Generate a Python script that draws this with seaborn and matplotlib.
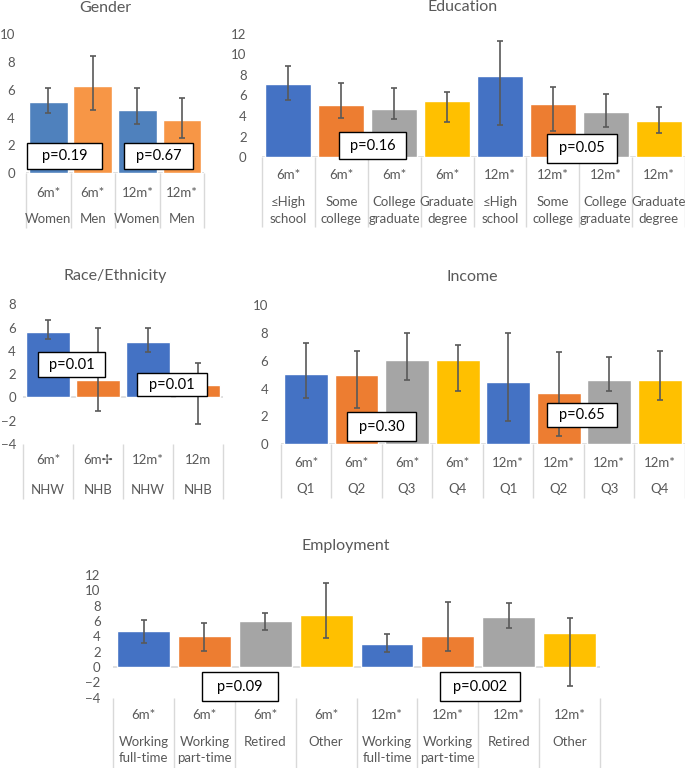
import matplotlib
matplotlib.use("Agg")
import matplotlib.pyplot as plt
from matplotlib.patches import Rectangle
import seaborn as sns
import pandas as pd

# ---- data ----
# Gender
gender_periods = ["6m*", "6m*", "12m*", "12m*"]
gender_groups = ["Women", "Men", "Women", "Men"]
gender_mean = [5.15, 6.25, 4.55, 3.85]
gender_low = [4.35, 4.55, 3.55, 2.55]
gender_high = [6.15, 8.45, 6.15, 5.45]
gender_p = ["p=0.19", "p=0.67"]

# Education
edu_periods = ["6m*"] * 4 + ["12m*"] * 4
edu_groups = ["≤High\nschool", "Some\ncollege", "College\ngraduate", "Graduate\ndegree"] * 2
edu_mean = [7.1, 5.1, 4.7, 5.45, 7.9, 5.2, 4.4, 3.55]
edu_low = [5.55, 3.85, 3.75, 3.45, 3.1, 2.55, 2.95, 2.35]
edu_high = [8.9, 7.2, 6.75, 6.35, 11.3, 6.85, 6.1, 4.9]
edu_p = ["p=0.16", "p=0.05"]

# Race/Ethnicity
race_periods = ["6m*", "6m\u2722", "12m*", "12m"]
race_groups = ["NHW", "NHB", "NHW", "NHB"]
race_mean = [5.65, 1.5, 4.75, 1.1]
race_low = [5.05, -1.15, 3.9, -2.3]
race_high = [6.65, 5.95, 5.95, 2.95]
race_p = ["p=0.01", "p=0.01"]

# Income
inc_periods = ["6m*"] * 4 + ["12m*"] * 4
inc_groups = ["Q1", "Q2", "Q3", "Q4"] * 2
inc_mean = [5.05, 4.98, 6.08, 6.08, 4.5, 3.65, 4.6, 4.6]
inc_low = [3.3, 2.6, 4.6, 3.8, 1.7, 0.6, 3.8, 3.2]
inc_high = [7.3, 6.7, 8.0, 7.1, 8.0, 6.6, 6.3, 6.7]
inc_p = ["p=0.30", "p=0.65"]

# Employment
emp_periods = ["6m*"] * 4 + ["12m*"] * 4
emp_groups = ["Working\nfull-time", "Working\npart-time", "Retired", "Other"] * 2
emp_mean = [4.75, 4.1, 6.05, 6.75, 2.95, 4.1, 6.5, 4.45]
emp_low = [3.15, 2.05, 4.85, 3.8, 1.9, 2.05, 5.15, -2.45]
emp_high = [6.1, 5.8, 7.0, 11.0, 4.35, 8.5, 8.4, 6.4]
emp_p = ["p=0.09", "p=0.002"]

# colours
old_two = ["#4F81BD", "#F79646"]
two = ["#4472C4", "#ED7D31"]
four = ["#4472C4", "#ED7D31", "#A5A5A5", "#FFC000"]

GRAY = "#595959"
LIGHT = "#D9D9D9"
PX = 0.72  # points per pixel at 100 dpi
LBL = 9.5

sns.set_style("white")
plt.rcParams["font.family"] = ["Lato", "DejaVu Sans"]


def draw_panel(ax, periods, groups, mean, low, high, colors, ylim, ystep,
               rows, sep_px, pvals, pboxes, ypad=9):
    n = len(mean)
    df = pd.DataFrame({"cat": [f"{p}|{g}|{i}" for i, (p, g) in enumerate(zip(periods, groups))],
                       "mean": mean})
    sns.barplot(data=df, x="cat", y="mean", hue="cat", palette=colors, width=0.87,
                saturation=1, legend=False, ax=ax, zorder=2)
    yerr = [[m - l for m, l in zip(mean, low)], [h - m for m, h in zip(mean, high)]]
    ax.errorbar(range(n), mean, yerr=yerr, fmt="none", ecolor=GRAY, elinewidth=1.2,
                capsize=2.5, capthick=1.2, zorder=3)
    ax.axhline(0, color=LIGHT, lw=1.2, zorder=1)
    ax.set_xlim(-0.5, n - 0.5)
    ax.set_ylim(*ylim)
    ax.set_yticks(list(range(int(ylim[0]), int(ylim[1]) + 1, ystep)))
    ax.set_xlabel("")
    ax.set_ylabel("")
    for s in ax.spines.values():
        s.set_visible(False)
    ax.set_xticks(range(n))
    ax.set_xticklabels([])
    ax.set_xticks([i - 0.5 for i in range(n + 1)], minor=True)
    ax.tick_params(axis="x", which="major", length=0)
    ax.tick_params(axis="x", which="minor", length=sep_px * PX, color=LIGHT, width=1.0,
                   direction="out", bottom=True)
    ax.tick_params(axis="y", length=0, labelcolor=GRAY, labelsize=LBL, pad=ypad)

    r1, r2, gap = rows
    for i, (p, g) in enumerate(zip(periods, groups)):
        ax.annotate(p, xy=(i, 0), xycoords=("data", "axes fraction"),
                    xytext=(0, -r1 * PX), textcoords="offset points",
                    ha="center", va="center", fontsize=LBL, color=GRAY)
        for k, line in enumerate(g.split("\n")):
            ax.annotate(line, xy=(i, 0), xycoords=("data", "axes fraction"),
                        xytext=(0, -(r2 + k * gap) * PX), textcoords="offset points",
                        ha="center", va="center", fontsize=LBL, color=GRAY)

    for txt, (x0, x1, y0, y1) in zip(pvals, pboxes):
        ax.add_patch(Rectangle((x0, y0), x1 - x0, y1 - y0, facecolor="white",
                               edgecolor="black", lw=1.0, zorder=5, clip_on=False))
        ax.text((x0 + x1) / 2, (y0 + y1) / 2, txt, ha="center", va="center",
                fontsize=10.5, color="black", zorder=6, clip_on=False)


W, H = 685, 768
fig = plt.figure(figsize=(W / 100, H / 100), dpi=100)


def add_axes(x0, x1, ytop, ybot):
    return fig.add_axes([x0 / W, 1 - ybot / H, (x1 - x0) / W, (ybot - ytop) / H])


# Gender
ax = add_axes(26, 204.3, 34.3, 173.3)
draw_panel(ax, gender_periods, gender_groups, gender_mean, gender_low, gender_high,
           old_two * 2, (0, 10), 2, (19.7, 45.7, 17), 55, gender_p,
           [(-0.48, 1.2, 0.29, 2.16), (1.7, 3.24, 0.29, 2.16)], ypad=8)
fig.text(105 / W, 1 - 8 / H, "Gender", ha="center", va="center", fontsize=11.5, color=GRAY)

# Education
ax = add_axes(262, 685, 33.7, 157.3)
draw_panel(ax, edu_periods, edu_groups, edu_mean, edu_low, edu_high,
           four * 2, (0, 12), 2, (17.7, 44.7, 17), 70, edu_p,
           [(0.955, 2.22, -0.17, 2.46), (4.89, 6.21, -0.52, 2.23)], ypad=11)
fig.text(463 / W, 1 - 7 / H, "Education", ha="center", va="center", fontsize=11.5, color=GRAY)

# Race/Ethnicity
ax = add_axes(23, 223, 304.3, 444)
draw_panel(ax, race_periods, race_groups, race_mean, race_low, race_high,
           two * 2, (-4, 8), 2, (16, 46, 17), 55, race_p,
           [(-0.2, 1.14, 1.78, 3.87), (1.78, 3.18, 0.14, 2.06)], ypad=5)
fig.text(115 / W, 1 - 276 / H, "Race/Ethnicity", ha="center", va="center", fontsize=11.5, color=GRAY)

# Income
ax = add_axes(280.7, 685, 305, 444.3)
draw_panel(ax, inc_periods, inc_groups, inc_mean, inc_low, inc_high,
           four * 2, (0, 10), 2, (18.4, 45, 17), 54, inc_p,
           [(0.81, 2.18, 0.23, 2.3), (4.77, 6.16, 1.24, 3.0)])
fig.text(472 / W, 1 - 277 / H, "Income", ha="center", va="center", fontsize=11.5, color=GRAY)

# Employment
ax = add_axes(113.2, 600, 575, 697.7)
draw_panel(ax, emp_periods, emp_groups, emp_mean, emp_low, emp_high,
           four * 2, (-4, 12), 2, (17.3, 44, 16.3), 70, emp_p,
           [(0.955, 2.215, -4.43, -0.69), (4.875, 6.19, -4.43, -0.69)])
fig.text(346 / W, 1 - 546 / H, "Employment", ha="center", va="center", fontsize=11.5, color=GRAY)

fig.savefig("out.png", dpi=100, facecolor="white")
